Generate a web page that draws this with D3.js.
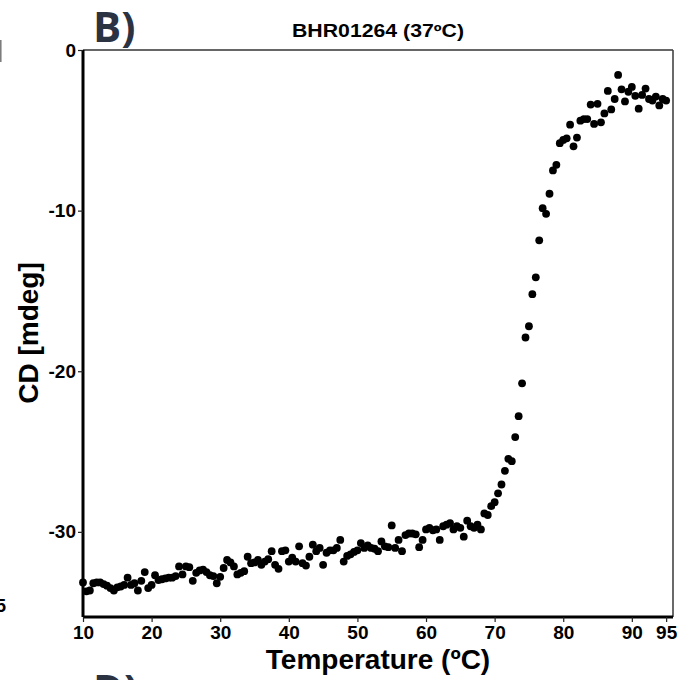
<!DOCTYPE html>
<html>
<head>
<meta charset="utf-8">
<script src="https://cdn.jsdelivr.net/npm/d3@7"></script>
<style>
  html, body { margin: 0; padding: 0; background: #fff; }
  svg { display: block; }
</style>
</head>
<body>
<div id="chart"></div>
<script>
// ---- Data ----
const temperature = d3.range(10, 95.001, 0.5).map(v => +v.toFixed(1));
const cdValues = [
  -33.15, -33.7, -33.65, -33.2, -33.15, -33.15, -33.25, -33.35, -33.5, -33.65, // 10 - 14.5
  -33.45, -33.4, -33.3, -32.85, -33.3, -33.2, -33.65, -33.05, -32.5, -33.5,   // 15 - 19.5
  -33.3, -32.7, -33.0, -32.95, -32.9, -32.85, -32.85, -32.75, -32.15, -32.65, // 20 - 24.5
  -32.15, -32.2, -33.05, -32.55, -32.4, -32.35, -32.5, -32.7, -32.75, -33.2,  // 25 - 29.5
  -32.8, -32.25, -31.75, -31.9, -32.15, -32.65, -32.55, -32.45, -31.55, -31.95, // 30 - 34.5
  -31.9, -31.75, -32.05, -31.85, -31.7, -31.2, -32.05, -32.3, -31.2, -31.15,  // 35 - 39.5
  -31.85, -31.6, -31.85, -30.9, -31.95, -32.1, -31.55, -30.8, -31.2, -31.0,   // 40 - 44.5
  -32.05, -31.3, -31.15, -31.15, -31.0, -30.5, -31.85, -31.5, -31.4, -31.25,  // 45 - 49.5
  -31.15, -30.7, -31.0, -30.85, -31.0, -31.05, -31.2, -30.6, -30.9, -30.95,   // 50 - 54.5
  -29.6, -31.0, -30.5, -31.2, -30.2, -30.1, -30.1, -30.15, -30.95, -30.5,     // 55 - 59.5
  -29.85, -29.75, -29.9, -29.85, -30.5, -29.65, -29.55, -29.45, -29.85, -29.65, // 60 - 64.5
  -29.75, -30.3, -29.3, -29.65, -29.75, -29.55, -29.85, -28.85, -28.95, -28.4, // 65 - 69.5
  -28.15, -27.6, -27.05, -26.2, -25.45, -25.6, -24.1, -22.8, -20.75, -17.9,   // 70 - 74.5
  -17.2, -15.2, -14.15, -11.85, -9.85, -10.2, -8.95, -7.5, -7.15, -5.8,       // 75 - 79.5
  -5.6, -5.5, -4.65, -6.0, -5.45, -4.4, -4.3, -4.3, -3.4, -4.6,               // 80 - 84.5
  -3.35, -4.5, -3.95, -2.55, -3.7, -3.05, -1.55, -2.45, -3.2, -2.6,           // 85 - 89.5
  -2.3, -2.85, -3.65, -2.8, -2.4, -3.05, -3.15, -2.9, -3.45, -3.05,           // 90 - 94.5
  -3.15                                                                       // 95
];
const xTicks = [10, 20, 30, 40, 50, 60, 70, 80, 90, 95];
const yTicks = [0, -10, -20, -30];
const xDomain = [10, 96];
const yDomain = [-35.3, 0];
const chartTitle = "BHR01264 (37ºC)";
const xTitle = "Temperature (ºC)";
const yTitle = "CD [mdeg]";
const panelLabel = "B)";
const nextPanelLabel = "D)";

const points = temperature.map((t, i) => ({ t, cd: cdValues[i] }));

// ---- Layout ----
const W = 679, H = 680;
const plot = { left: 83, right: 673, top: 50, bottom: 617 };

const svg = d3.select("#chart").append("svg")
  .attr("width", W).attr("height", H);

const x = d3.scaleLinear().domain(xDomain).range([plot.left, plot.right]);
const y = d3.scaleLinear().domain(yDomain).range([plot.bottom, plot.top]);

const fontMain = "'Liberation Sans', Arial, Helvetica, sans-serif";

// Frame: top + right thin gray
svg.append("line")
  .attr("x1", plot.left).attr("x2", plot.right)
  .attr("y1", plot.top).attr("y2", plot.top)
  .attr("stroke", "#333").attr("stroke-width", 1.6);
svg.append("line")
  .attr("x1", plot.right).attr("x2", plot.right)
  .attr("y1", plot.top).attr("y2", plot.bottom)
  .attr("stroke", "#444").attr("stroke-width", 1.6);

// Axes
const xAxis = d3.axisBottom(x).tickValues(xTicks).tickSize(5).tickPadding(4).tickFormat(d3.format("d"));
const yAxis = d3.axisLeft(y).tickValues(yTicks).tickSize(5).tickPadding(2).tickFormat(d => d === 0 ? "0" : "-" + Math.abs(d));

const gx = svg.append("g").attr("transform", `translate(0,${plot.bottom})`).call(xAxis);
const gy = svg.append("g").attr("transform", `translate(${plot.left},0)`).call(yAxis);

[gx, gy].forEach(g => {
  g.select(".domain").attr("stroke", "#000").attr("stroke-width", 3);
  g.selectAll(".tick line").attr("stroke", "#222").attr("stroke-width", 1.2);
  g.selectAll(".tick text")
    .attr("fill", "#000")
    .style("font-family", fontMain)
    .style("font-weight", "bold")
    .style("font-size", "19px");
});
gx.select(".domain").attr("d", `M${plot.left},0H${plot.right}`);
gy.select(".domain").attr("d", `M0,${plot.bottom}V${plot.top}`);

// Points
svg.append("g").selectAll("circle")
  .data(points)
  .join("circle")
  .attr("cx", d => x(d.t))
  .attr("cy", d => y(d.cd))
  .attr("r", 3.9)
  .attr("fill", "#000");

// Titles
svg.append("text")
  .attr("x", 378).attr("y", 37)
  .attr("text-anchor", "middle")
  .attr("textLength", 172).attr("lengthAdjust", "spacingAndGlyphs")
  .style("font-family", fontMain).style("font-weight", "bold").style("font-size", "18px")
  .text(chartTitle);

svg.append("text")
  .attr("x", 378).attr("y", 669)
  .attr("text-anchor", "middle")
  .style("font-family", fontMain).style("font-weight", "bold").style("font-size", "28px")
  .text(xTitle);

svg.append("text")
  .attr("transform", "translate(38,333) rotate(-90)")
  .attr("text-anchor", "middle")
  .style("font-family", fontMain).style("font-weight", "bold").style("font-size", "28px")
  .text(yTitle);

// Panel labels
svg.append("text")
  .attr("x", 93).attr("y", 42)
  .style("font-family", "'Open Sans', sans-serif").style("font-weight", "bold").style("font-size", "42px")
  .attr("fill", "#2b3242")
  .text(panelLabel);

svg.append("text")
  .attr("x", 93).attr("y", 705)
  .style("font-family", "'Open Sans', sans-serif").style("font-weight", "bold").style("font-size", "42px")
  .attr("fill", "#2b3242")
  .text(nextPanelLabel);

// Fragments of neighbouring panel at the left edge
svg.append("text")
  .attr("x", 6).attr("y", 612)
  .attr("text-anchor", "end")
  .style("font-family", fontMain).style("font-weight", "bold").style("font-size", "18px")
  .text("5");
svg.append("line")
  .attr("x1", 0.8).attr("x2", 0.8).attr("y1", 40).attr("y2", 62)
  .attr("stroke", "#777").attr("stroke-width", 1.5);
</script>
</body>
</html>
